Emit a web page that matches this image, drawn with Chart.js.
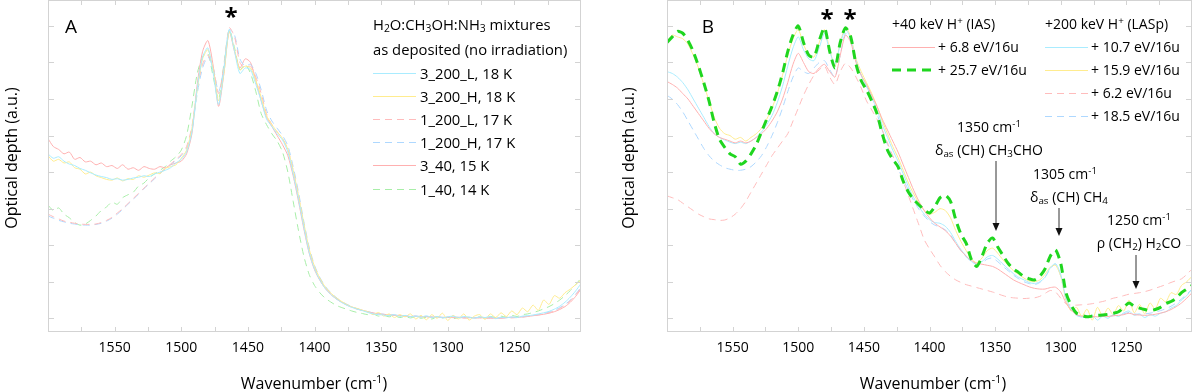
<!DOCTYPE html>
<html><head><meta charset="utf-8">
<script src="https://cdn.jsdelivr.net/npm/chart.js@4.4.0/dist/chart.umd.min.js"></script>
<style>
html,body{margin:0;padding:0;background:#fff;}
#wrap{position:relative;width:1200px;height:392px;overflow:hidden;font-family:'Open Sans',sans-serif;color:#000;}
canvas{position:absolute;top:0;}
.t{position:absolute;white-space:nowrap;font-size:14px;line-height:1;transform:translateY(-50%);}
.ta{font-size:14.8px;}
.c{position:absolute;white-space:nowrap;line-height:1;transform:translate(-50%,-50%);}
.yt{position:absolute;white-space:nowrap;font-size:16px;line-height:1;transform:translate(-50%,-50%) rotate(-90deg);}
sub{font-size:70%;vertical-align:-0.25em;line-height:0;}
sup{font-size:70%;vertical-align:0.55em;line-height:0;}
svg{position:absolute;left:0;top:0;}
</style></head>
<body>
<div id="wrap">
<canvas id="cA" width="600" height="392" style="left:0px"></canvas>
<canvas id="cB" width="581" height="392" style="left:619px"></canvas>
<svg width="1200" height="392" id="ov"></svg>

<div class="c" style="left:71px;top:26px;font-size:19px;">A</div>
<div class="c" style="left:231px;top:16px;font-size:24px;font-weight:bold;">*</div>
<div class="t ta" style="left:373px;top:24px;">H<sub>2</sub>O:CH<sub>3</sub>OH:NH<sub>3</sub> mixtures</div>
<div class="t ta" style="left:373px;top:49px;">as deposited (no irradiation)</div>
<div class="t ta" style="left:420px;top:73px;">3_200_L, 18 K</div>
<div class="t ta" style="left:420px;top:96px;">3_200_H, 18 K</div>
<div class="t ta" style="left:420px;top:119px;">1_200_L, 17 K</div>
<div class="t ta" style="left:420px;top:142px;">1_200_H, 17 K</div>
<div class="t ta" style="left:420px;top:165px;">3_40, 15 K</div>
<div class="t ta" style="left:420px;top:189px;">1_40, 14 K</div>
<div class="yt" style="left:11px;top:158px;">Optical depth (a.u.)</div>
<div class="c" style="left:314px;top:383px;font-size:16px;">Wavenumber (cm<sup>-1</sup>)</div>

<div class="c" style="left:708px;top:26px;font-size:19px;">B</div>
<div class="c" style="left:827px;top:18px;font-size:24px;font-weight:bold;">*</div>
<div class="c" style="left:850px;top:18px;font-size:24px;font-weight:bold;">*</div>
<div class="t" style="left:892px;top:24px;">+40 keV H<sup>+</sup> (IAS)</div>
<div class="t" style="left:938px;top:47px;">+ 6.8 eV/16u</div>
<div class="t" style="left:938px;top:70px;">+ 25.7 eV/16u</div>
<div class="t" style="left:1045px;top:24px;">+200 keV H<sup>+</sup> (LASp)</div>
<div class="t" style="left:1091px;top:47px;">+ 10.7 eV/16u</div>
<div class="t" style="left:1091px;top:70px;">+ 15.9 eV/16u</div>
<div class="t" style="left:1091px;top:93px;">+ 6.2 eV/16u</div>
<div class="t" style="left:1091px;top:116px;">+ 18.5 eV/16u</div>
<div class="c" style="left:989px;top:127px;font-size:14px;">1350 cm<sup>-1</sup></div>
<div class="c" style="left:989px;top:150px;font-size:14px;">&delta;<sub>as</sub> (CH) CH<sub>3</sub>CHO</div>
<div class="c" style="left:1065px;top:174px;font-size:14px;">1305 cm<sup>-1</sup></div>
<div class="c" style="left:1069px;top:197px;font-size:14px;">&delta;<sub>as</sub> (CH) CH<sub>4</sub></div>
<div class="c" style="left:1139px;top:220px;font-size:14px;">1250 cm<sup>-1</sup></div>
<div class="c" style="left:1139px;top:243px;font-size:14px;">&rho; (CH<sub>2</sub>) H<sub>2</sub>CO</div>
<div class="yt" style="left:628px;top:158px;">Optical depth (a.u.)</div>
<div class="c" style="left:933px;top:383px;font-size:16px;">Wavenumber (cm<sup>-1</sup>)</div>
</div>

<script>
// ---- data ----
const wavenumbers = [
1600,1596,1592,1588,1584,1580,1576,1572,1568,1564,
1560,1556,1552,1548,1544,1540,1536,1532,1528,1524,
1520,1516,1512,1508,1504,1500,1496,1492,1488,1484,
1480,1476,1472,1468,1464,1460,1456,1452,1448,1444,
1440,1436,1432,1428,1424,1420,1416,1412,1408,1404,
1400,1396,1392,1388,1384,1380,1376,1372,1368,1364,
1360,1356,1352,1348,1344,1340,1336,1332,1328,1324,
1320,1316,1312,1308,1304,1300,1296,1292,1288,1284,
1280,1276,1272,1268,1264,1260,1256,1252,1248,1244,
1240,1236,1232,1228,1224,1220,1216,1212,1208,1204,
1200];
const xTickLabels = [1550,1500,1450,1400,1350,1300,1250];
const yTickValues = [0,1,2,3,4,5,6,7,8];

// Panel A: as deposited
const A_3_200_L = [
4.50,4.38,4.42,4.30,4.22,4.18,4.10,4.05,3.98,3.92,
3.88,3.85,3.80,3.82,3.78,3.80,3.84,3.86,3.90,3.88,
3.95,4.00,4.05,4.12,4.25,4.35,4.55,5.10,6.30,7.15,
7.40,6.70,5.85,6.80,7.90,7.30,6.70,6.85,6.80,6.40,
5.95,5.45,5.25,5.05,4.88,4.55,3.95,3.25,2.50,1.80,
1.35,1.05,0.82,0.66,0.54,0.44,0.36,0.30,0.25,0.21,
0.16,0.12,0.10,0.09,0.07,0.10,0.05,0.08,0.04,0.06,
0.03,0.07,0.02,0.05,0.01,0.04,0.06,0.02,0.05,0.03,
0.00,0.04,0.02,0.05,-0.01,0.03,0.01,0.04,0.02,0.06,
0.07,0.09,0.12,0.15,0.19,0.25,0.33,0.44,0.58,0.75,
0.95];
const A_3_200_H = [
4.45,4.30,4.35,4.25,4.28,4.12,4.08,3.95,4.00,3.90,
3.85,3.80,3.78,3.84,3.76,3.82,3.80,3.90,3.86,3.92,
3.98,3.96,4.10,4.15,4.20,4.38,4.60,5.20,6.25,7.10,
7.35,6.80,5.95,6.70,7.85,7.35,6.80,6.90,6.85,6.50,
6.05,5.55,5.30,5.10,4.92,4.62,4.05,3.35,2.60,1.90,
1.42,1.10,0.86,0.70,0.57,0.47,0.38,0.31,0.27,0.22,
0.18,0.10,0.16,0.06,0.12,0.02,0.10,0.04,0.12,-0.02,
0.08,-0.04,0.10,0.00,0.14,-0.06,0.08,-0.02,0.12,-0.05,
0.06,0.10,-0.03,0.12,0.02,0.15,0.05,0.20,0.10,0.28,
0.18,0.36,0.22,0.50,0.38,0.62,0.55,0.70,0.80,0.92,
1.05];
const A_1_200_L = [
2.85,2.78,2.72,2.66,2.63,2.60,2.58,2.57,2.57,2.58,
2.62,2.68,2.76,2.88,3.00,3.14,3.28,3.42,3.56,3.70,
3.84,3.98,4.10,4.22,4.35,4.48,4.70,5.25,6.30,6.95,
7.20,6.85,6.15,6.90,7.95,7.70,7.00,6.85,6.90,6.60,
6.15,5.60,5.30,5.10,4.92,4.62,4.05,3.35,2.55,1.85,
1.38,1.07,0.84,0.68,0.55,0.45,0.37,0.30,0.25,0.21,
0.17,0.14,0.12,0.10,0.09,0.08,0.07,0.06,0.05,0.05,
0.04,0.04,0.03,0.03,0.02,0.02,0.02,0.01,0.01,0.01,
0.01,0.01,0.00,0.00,0.00,0.00,0.01,0.01,0.02,0.03,
0.05,0.07,0.09,0.12,0.15,0.20,0.27,0.36,0.48,0.64,
0.82];
const A_1_200_H = [
2.80,2.74,2.68,2.64,2.60,2.58,2.56,2.55,2.55,2.57,
2.60,2.66,2.74,2.85,2.98,3.12,3.26,3.40,3.55,3.68,
3.82,3.96,4.08,4.20,4.32,4.45,4.65,5.15,6.15,6.85,
7.15,6.85,6.20,6.85,7.90,7.75,7.10,6.90,6.95,6.70,
6.25,5.70,5.40,5.20,5.00,4.72,4.15,3.45,2.65,1.95,
1.45,1.12,0.88,0.71,0.58,0.47,0.39,0.32,0.26,0.22,
0.18,0.15,0.13,0.11,0.10,0.09,0.08,0.07,0.06,0.06,
0.05,0.05,0.04,0.04,0.03,0.03,0.03,0.02,0.02,0.02,
0.02,0.02,0.01,0.01,0.01,0.01,0.02,0.02,0.03,0.04,
0.06,0.08,0.10,0.13,0.17,0.22,0.29,0.38,0.50,0.66,
0.85];
const A_3_40 = [
4.92,4.70,4.62,4.50,4.55,4.35,4.40,4.28,4.30,4.20,
4.25,4.15,4.18,4.10,4.20,4.08,4.12,4.05,4.15,4.10,
4.08,4.15,4.12,4.20,4.25,4.30,4.50,5.05,6.40,7.30,
7.60,6.90,5.80,6.70,7.85,7.30,6.85,7.10,7.00,6.50,
5.95,5.50,5.25,5.00,4.75,4.45,3.90,3.20,2.45,1.78,
1.33,1.04,0.82,0.66,0.54,0.45,0.37,0.31,0.26,0.22,
0.18,0.15,0.12,0.11,0.09,0.08,0.08,0.06,0.05,0.06,
0.04,0.05,0.03,0.04,0.02,0.03,0.02,0.03,0.01,0.02,
0.01,0.02,0.01,0.02,0.00,0.01,0.02,0.03,0.02,0.04,
0.05,0.07,0.09,0.11,0.14,0.18,0.24,0.32,0.44,0.60,
0.80];
const A_1_40 = [
3.10,2.95,3.02,2.85,2.75,2.62,2.55,2.58,2.68,2.80,
2.95,3.05,3.18,3.12,3.30,3.38,3.45,3.62,3.70,3.85,
3.95,4.05,4.15,4.30,4.42,4.60,5.00,5.80,6.70,7.15,
7.25,6.60,6.00,6.95,7.90,7.40,6.80,6.95,6.70,6.20,
5.60,5.30,5.05,4.85,4.55,4.00,3.20,2.40,1.70,1.20,
0.90,0.70,0.55,0.45,0.36,0.30,0.25,0.20,0.16,0.13,
0.10,0.12,0.06,0.08,0.04,0.07,0.02,0.05,0.01,0.04,
0.00,0.03,-0.02,0.04,0.01,0.03,-0.01,0.02,0.00,0.03,
0.01,0.04,0.00,0.05,0.02,0.06,0.03,0.08,0.05,0.10,
0.12,0.16,0.20,0.26,0.32,0.40,0.50,0.62,0.76,0.92,
1.10];

// Panel B: irradiated
const B_IAS_6_8 = [
6.48,6.40,6.30,6.15,6.00,5.80,5.60,5.40,5.20,5.05,
4.95,4.90,4.85,4.80,4.85,4.80,4.85,4.95,5.05,5.20,
5.40,5.65,6.00,6.45,6.95,7.25,7.00,6.75,6.70,6.85,
6.95,6.75,6.60,7.20,7.75,7.55,7.00,6.65,6.40,6.10,
5.80,5.45,5.15,4.85,4.55,4.20,3.85,3.50,3.20,2.95,
2.75,2.60,2.50,2.40,2.25,2.05,1.85,1.70,1.58,1.50,
1.48,1.45,1.42,1.35,1.25,1.15,1.05,0.98,0.92,0.86,
0.82,0.80,0.80,0.84,0.85,0.72,0.42,0.22,0.10,0.06,
0.04,0.05,0.04,0.06,0.05,0.07,0.08,0.10,0.14,0.10,
0.09,0.08,0.09,0.11,0.14,0.18,0.24,0.32,0.42,0.55,
0.70];
const B_IAS_25_7 = [
7.55,7.70,7.85,7.80,7.60,7.30,6.90,6.45,5.95,5.35,
4.90,4.68,4.50,4.42,4.22,4.30,4.50,4.75,5.10,5.45,
5.80,6.20,6.70,7.30,7.75,8.00,7.55,7.20,7.15,7.60,
7.95,7.30,6.85,7.55,7.95,7.70,6.95,6.50,6.25,5.95,
5.60,5.05,4.60,4.35,4.15,3.75,3.45,3.25,3.10,2.97,
2.88,3.05,3.30,3.37,3.20,2.70,2.30,2.05,1.60,1.42,
1.70,2.05,2.20,1.95,1.72,1.50,1.35,1.25,1.14,1.08,
1.05,1.15,1.35,1.70,1.87,1.50,0.70,0.35,0.14,0.08,
0.04,0.06,0.08,0.09,0.11,0.14,0.18,0.30,0.42,0.33,
0.28,0.24,0.21,0.24,0.30,0.40,0.46,0.55,0.70,0.80,
0.90];
const B_LASp_10_7 = [
6.75,6.70,6.60,6.45,6.25,6.00,5.75,5.50,5.25,5.05,
4.95,4.88,4.82,4.78,4.82,4.78,4.85,4.95,5.10,5.30,
5.55,5.90,6.35,6.90,7.40,7.70,7.35,7.10,7.05,7.40,
7.80,7.30,6.95,7.50,7.90,7.65,7.05,6.65,6.35,6.05,
5.70,5.30,4.95,4.60,4.30,3.95,3.60,3.30,3.05,2.85,
2.70,2.62,2.60,2.52,2.35,2.10,1.88,1.70,1.55,1.48,
1.55,1.68,1.72,1.62,1.48,1.35,1.22,1.12,1.05,0.98,
0.95,1.00,1.12,1.38,1.50,1.20,0.55,0.25,0.10,0.04,
0.02,0.08,-0.05,0.06,0.00,0.10,0.05,0.15,0.20,0.08,
0.12,0.02,0.10,0.06,0.14,0.18,0.28,0.35,0.50,0.62,
0.80];
const B_LASp_15_9 = [
7.55,7.75,7.70,7.65,7.50,7.20,6.85,6.40,5.95,5.50,
5.20,5.05,5.00,4.90,4.95,4.85,4.95,5.05,5.20,5.45,
5.75,6.15,6.65,7.20,7.65,7.90,7.50,7.20,7.15,7.55,
7.90,7.35,6.90,7.55,7.95,7.70,7.10,6.75,6.45,6.15,
5.80,5.40,5.05,4.70,4.40,4.05,3.70,3.40,3.15,2.95,
2.85,2.90,3.00,2.95,2.75,2.40,2.10,1.85,1.62,1.52,
1.65,1.85,1.92,1.78,1.60,1.45,1.30,1.20,1.10,1.02,
1.00,1.05,1.20,1.40,1.45,1.15,0.50,0.20,0.30,0.05,
0.25,-0.05,0.30,0.05,0.28,0.10,0.35,0.20,0.50,0.15,
0.38,0.12,0.42,0.25,0.55,0.45,0.70,0.65,0.90,1.00,
1.15];
const B_LASp_6_2 = [
3.35,3.30,3.25,3.15,3.05,2.95,2.85,2.78,2.72,2.70,
2.68,2.69,2.75,2.85,3.00,3.20,3.45,3.70,3.95,4.20,
4.45,4.65,4.85,5.05,5.40,5.75,6.10,6.40,6.65,6.80,
6.90,6.60,6.40,6.75,6.98,6.85,6.60,6.30,5.95,5.70,
5.45,5.15,4.80,4.45,4.10,3.75,3.35,2.95,2.55,2.15,
1.90,1.68,1.45,1.28,1.15,1.05,0.98,0.92,0.88,0.84,
0.80,0.76,0.72,0.67,0.62,0.58,0.56,0.55,0.54,0.55,
0.56,0.60,0.68,0.76,0.72,0.55,0.40,0.36,0.36,0.37,
0.38,0.40,0.43,0.46,0.50,0.55,0.58,0.62,0.66,0.68,
0.70,0.73,0.77,0.82,0.87,0.92,0.98,1.03,1.08,1.20,
1.35];
const B_LASp_18_5 = [
6.10,6.00,5.85,5.65,5.40,5.15,4.90,4.65,4.45,4.30,
4.20,4.12,4.08,4.05,4.05,4.08,4.15,4.28,4.45,4.70,
5.00,5.35,5.75,6.20,6.60,6.85,6.75,6.70,6.85,7.00,
7.05,6.80,6.60,7.20,7.80,7.60,7.05,6.65,6.35,6.00,
5.60,5.15,4.75,4.40,4.10,3.80,3.50,3.22,2.98,2.80,
2.65,2.55,2.50,2.42,2.28,2.05,1.85,1.68,1.55,1.48,
1.52,1.62,1.65,1.55,1.42,1.30,1.18,1.08,1.00,0.95,
0.92,0.98,1.12,1.35,1.48,1.15,0.50,0.20,0.08,0.03,
0.02,0.03,0.04,0.05,0.06,0.07,0.09,0.12,0.16,0.12,
0.11,0.12,0.14,0.17,0.21,0.26,0.33,0.42,0.53,0.66,
0.80];

// ---- styles ----
const FONT = "'Open Sans', sans-serif";
const COL = {cyan:'#a9ecff', yellow:'#ffec8f', pinkS:'#ffb0b0', pinkD:'#ffbcbc', blueD:'#aed8ff', greenD:'#a8eea8', green:'#1fd61f'};

function ds(label, values, color, dash, width, order) {
  return {label, data: wavenumbers.map((w,i)=>({x:w, y:values[i]})), borderColor: color,
    borderWidth: width||1, borderDash: dash||[], pointRadius:0, tension:0.25, fill:false, order: order===undefined?1:order};
}

const framePlugin = {
  id:'frame',
  afterDatasetsDraw(chart){
    const {ctx, chartArea:a, scales:{x,y}} = chart;
    ctx.save();
    ctx.strokeStyle = '#d3d3d3'; ctx.lineWidth = 1;
    ctx.strokeRect(Math.round(a.left)+0.5, Math.round(a.top)+0.5, Math.round(a.right-a.left)-1, Math.round(a.bottom-a.top)-1);
    ctx.beginPath();
    for (let v = x.min + 25; v < x.max; v += 25) {
      const px = Math.round(x.getPixelForValue(v)) + 0.5;
      ctx.moveTo(px, a.bottom); ctx.lineTo(px, a.bottom - 5);
      ctx.moveTo(px, a.top); ctx.lineTo(px, a.top + 5);
    }
    yTickValues.forEach(v => {
      const py = Math.round(y.getPixelForValue(v)) + 0.5;
      ctx.moveTo(a.left, py); ctx.lineTo(a.left + 6, py);
      ctx.moveTo(a.right, py); ctx.lineTo(a.right - 6, py);
    });
    ctx.stroke();
    ctx.restore();
  }
};

function makeChart(id, datasets, padRight) {
  return new Chart(document.getElementById(id), {
    type:'line',
    data:{datasets},
    options:{
      responsive:false, animation:false, devicePixelRatio:1,
      layout:{padding:{top:0,left:0,bottom:0,right:padRight}},
      plugins:{legend:{display:false}, tooltip:{enabled:false}},
      scales:{
        x:{type:'linear', reverse:true, min:1200, max:1600,
           grid:{display:false, drawTicks:false}, border:{display:false},
           ticks:{stepSize:50, autoSkip:false, maxRotation:0, padding:8, color:'#000',
                  font:{family:FONT, size:14},
                  callback:v => xTickLabels.includes(v) ? String(v) : ''},
           afterFit:s => { s.height = 60; }},
        y:{type:'linear', min:-0.375, max:8.71,
           grid:{display:false}, border:{display:false},
           ticks:{display:false, stepSize:1},
           afterFit:s => { s.width = 48; }}
      }
    },
    plugins:[framePlugin]
  });
}

makeChart('cA', [
  ds('3_200_L, 18 K', A_3_200_L, COL.cyan),
  ds('3_200_H, 18 K', A_3_200_H, COL.yellow),
  ds('1_200_L, 17 K', A_1_200_L, COL.pinkD, [7,5]),
  ds('1_200_H, 17 K', A_1_200_H, COL.blueD, [7,5]),
  ds('3_40, 15 K', A_3_40, COL.pinkS),
  ds('1_40, 14 K', A_1_40, COL.greenD, [7,5])
], 19);

makeChart('cB', [
  ds('+ 25.7 eV/16u', B_IAS_25_7, COL.green, [9,6], 3, 0),
  ds('+ 6.8 eV/16u', B_IAS_6_8, COL.pinkS),
  ds('+ 10.7 eV/16u', B_LASp_10_7, COL.cyan),
  ds('+ 15.9 eV/16u', B_LASp_15_9, COL.yellow),
  ds('+ 6.2 eV/16u', B_LASp_6_2, COL.pinkD, [7,5]),
  ds('+ 18.5 eV/16u', B_LASp_18_5, COL.blueD, [7,5])
], 1);

// legend samples and arrows (overlay)
const NS = 'http://www.w3.org/2000/svg';
const ov = document.getElementById('ov');
function line(x1,y1,x2,y2,color,w,dash){
  const l = document.createElementNS(NS,'line');
  l.setAttribute('x1',x1); l.setAttribute('y1',y1); l.setAttribute('x2',x2); l.setAttribute('y2',y2);
  l.setAttribute('stroke',color); l.setAttribute('stroke-width',w||1);
  if (dash) l.setAttribute('stroke-dasharray',dash);
  ov.appendChild(l);
}
function arrow(x,y1,y2){
  line(x,y1,x,y2-7,'#333',1);
  const p = document.createElementNS(NS,'polygon');
  p.setAttribute('points',`${x-3.5},${y2-8} ${x+3.5},${y2-8} ${x},${y2}`);
  p.setAttribute('fill','#111');
  ov.appendChild(p);
}
const legA = [[COL.cyan,null],[COL.yellow,null],[COL.pinkD,'7 5'],[COL.blueD,'7 5'],[COL.pinkS,null],[COL.greenD,'7 5']];
const legAy = [73,96,119,142,165,189];
legA.forEach((s,i)=>line(373,legAy[i]+0.5,416,legAy[i]+0.5,s[0],1,s[1]));
line(892,47.5,935,47.5,COL.pinkS,1,null);
line(892,70,935,70,COL.green,3,'9 6');
const legB = [[COL.cyan,null],[COL.yellow,null],[COL.pinkD,'7 5'],[COL.blueD,'7 5']];
const legBy = [47,70,93,116];
legB.forEach((s,i)=>line(1045,legBy[i]+0.5,1088,legBy[i]+0.5,s[0],1,s[1]));
arrow(996,161,231);
arrow(1059,208,236);
arrow(1136,255,289);
</script>
</body></html>
